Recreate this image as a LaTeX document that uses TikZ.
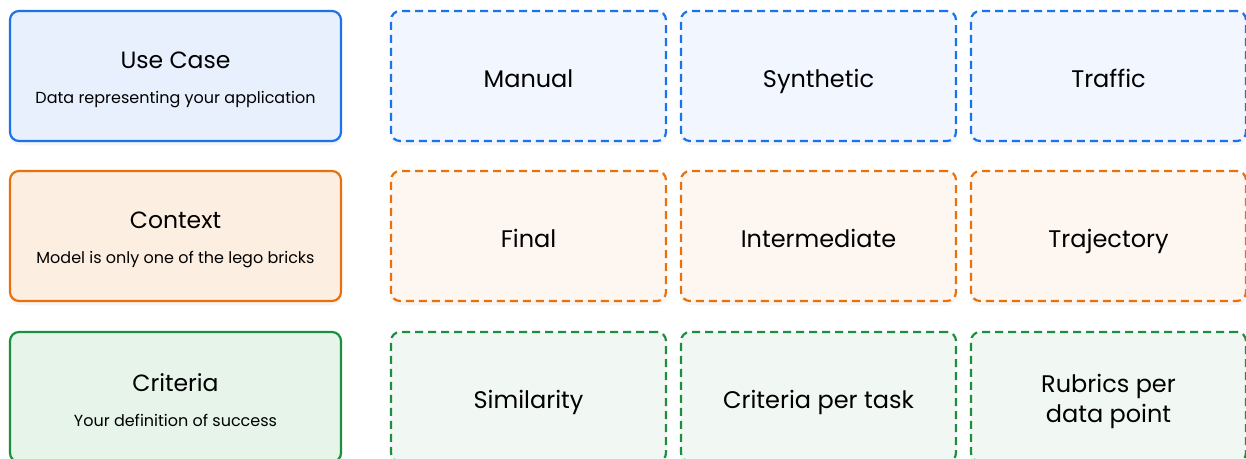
\documentclass[tikz,border=0pt]{standalone}
\usepackage{fontspec}
\setmainfont{Poppins}
\usepackage{tikz}
\usetikzlibrary{positioning}
\usetikzlibrary{shadows}

\definecolor{caseLine}{HTML}{1A73E8}
\definecolor{caseFill}{HTML}{E8F0FE}
\definecolor{caseLight}{HTML}{F2F6FE}
\definecolor{ctxLine}{HTML}{E8710A}
\definecolor{ctxFill}{HTML}{FDEEE2}
\definecolor{ctxLight}{HTML}{FEF6F0}
\definecolor{critLine}{HTML}{1E8E3E}
\definecolor{critFill}{HTML}{E6F4EA}
\definecolor{critLight}{HTML}{F1F8F3}

\tikzset{
  rowBox/.style 2 args={
    draw=#1, fill=#2, line width=2.2pt, rounded corners=9pt,
    rectangle, minimum width=331pt, minimum height=130pt,
    align=center, inner sep=0pt, outer sep=0pt,
    font=\fontsize{23.5}{35}\selectfont, text height=59pt,
    drop shadow={opacity=0.08, shadow xshift=0pt, shadow yshift=-4pt}
  },
  optBox/.style 2 args={
    draw=#1, fill=#2, line width=2.2pt, rounded corners=9pt,
    dash pattern=on 8pt off 5pt,
    rectangle, minimum width=275pt, minimum height=130pt,
    align=center, inner sep=0pt, outer sep=0pt,
    font=\fontsize{24}{30}\selectfont,
    drop shadow={opacity=0.08, shadow xshift=0pt, shadow yshift=-4pt}
  },
  oneLine/.style={text height=22pt, text depth=0pt},
}

\newcommand{\rowText}[2]{#1\\{\fontsize{16}{35}\selectfont #2}}

\begin{document}
\begin{tikzpicture}[x=1pt,y=-1pt]
\useasboundingbox (0,0) rectangle (1246,458);
\fill[white] (0,0) rectangle (1246,458);

% --- left column ---
\node[rowBox={caseLine}{caseFill}] (useCase) at (175.5,76)
  {\rowText{Use Case}{Data representing your application}};
\node[rowBox={ctxLine}{ctxFill}] (context) at (175.5,236)
  {\rowText{Context}{Model is only one of the lego bricks}};
\node[rowBox={critLine}{critFill}] (criteria) at (175.5,397)
  {\rowText{Criteria}{Your definition of success}};

% --- options per row ---
\node[optBox={caseLine}{caseLight}, oneLine, right=50pt of useCase] (manual) {Manual};
\node[optBox={caseLine}{caseLight}, oneLine, right=15pt of manual] (synthetic) {Synthetic};
\node[optBox={caseLine}{caseLight}, oneLine, right=15pt of synthetic] (traffic) {Traffic};

\node[optBox={ctxLine}{ctxLight}, oneLine, right=50pt of context] (final) {Final};
\node[optBox={ctxLine}{ctxLight}, oneLine, right=15pt of final] (intermediate) {Intermediate};
\node[optBox={ctxLine}{ctxLight}, oneLine, right=15pt of intermediate] (trajectory) {Trajectory};

\node[optBox={critLine}{critLight}, oneLine, right=50pt of criteria] (similarity) {Similarity};
\node[optBox={critLine}{critLight}, oneLine, right=15pt of similarity] (perTask) {Criteria per task};
\node[optBox={critLine}{critLight}, text height=58pt, right=15pt of perTask] (rubrics) {Rubrics per\\data point};

\end{tikzpicture}
\end{document}
